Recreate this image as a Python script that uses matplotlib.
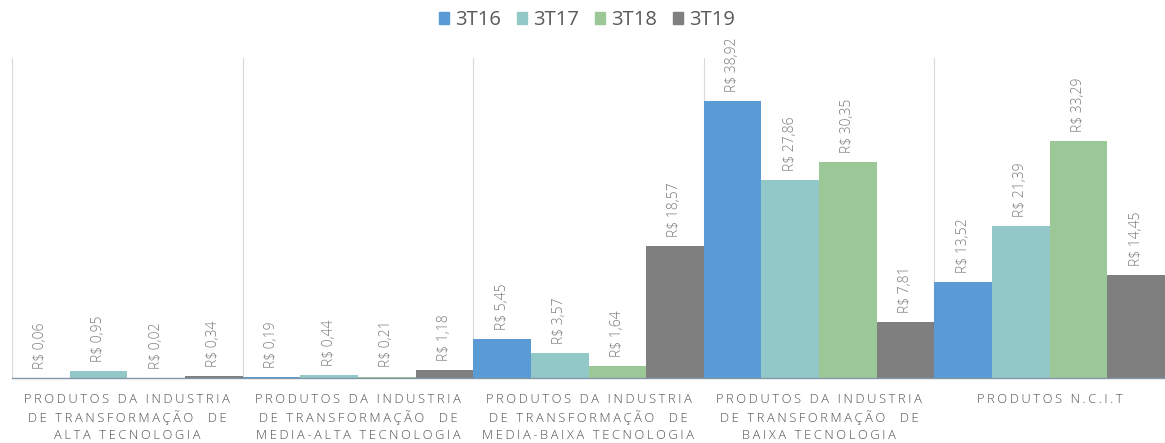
import matplotlib
matplotlib.use("Agg")
import matplotlib.pyplot as plt
import numpy as np
from matplotlib.patches import Patch

categories = [
    "PRODUTOS DA INDUSTRIA\nDE TRANSFORMAÇÃO  DE\nALTA TECNOLOGIA",
    "PRODUTOS DA INDUSTRIA\nDE TRANSFORMAÇÃO  DE\nMEDIA-ALTA TECNOLOGIA",
    "PRODUTOS DA INDUSTRIA\nDE TRANSFORMAÇÃO  DE\nMEDIA-BAIXA TECNOLOGIA",
    "PRODUTOS DA INDUSTRIA\nDE TRANSFORMAÇÃO  DE\nBAIXA TECNOLOGIA",
    "PRODUTOS N.C.I.T",
]
series_names = ["3T16", "3T17", "3T18", "3T19"]
v_3t16 = [0.06, 0.19, 5.45, 38.92, 13.52]
v_3t17 = [0.95, 0.44, 3.57, 27.86, 21.39]
v_3t18 = [0.02, 0.21, 1.64, 30.35, 33.29]
v_3t19 = [0.34, 1.18, 18.57, 7.81, 14.45]
series_values = [v_3t16, v_3t17, v_3t18, v_3t19]
colors = ["#5B9BD5", "#93C8C8", "#9CC796", "#7F7F7F"]

plt.rcParams['font.family'] = ['Open Sans', 'DejaVu Sans']


def spaced(s):
    # emulate the letter-spacing of the original labels with thin spaces
    return "\n".join("\u2009".join(line) for line in s.split("\n"))


fig = plt.figure(figsize=(11.65, 4.43), dpi=100)
ax = fig.add_axes([12/1165, 1-378/443, 1-12/1165, (378-58)/443])

x = np.arange(len(categories))
w = 0.25
for i, (name, vals, c) in enumerate(zip(series_names, series_values, colors)):
    pos = x + (i - 1.5) * w
    ax.bar(pos, vals, width=w, color=c, label=name, zorder=2)
    for p, v in zip(pos, vals):
        ax.annotate("R$ " + f"{v:.2f}".replace(".", ","), (p, v),
                    xytext=(0, 6.5), textcoords="offset points",
                    rotation=90, ha="center", va="bottom",
                    fontsize=10, color="#7A7A7A", fontweight="light")

ax.set_xlim(-0.5, len(categories) - 0.5)
ax.set_ylim(0, 45)
for b in np.arange(-0.5, len(categories) - 0.5, 1.0):
    ax.axvline(b, color="#D9D9D9", lw=0.8, zorder=1)

for s in ["top", "right", "left"]:
    ax.spines[s].set_visible(False)
ax.spines["bottom"].set_color("#8497A8")
ax.spines["bottom"].set_linewidth(1.0)
ax.set_yticks([])
ax.set_xticks(x)
ax.set_xticklabels([spaced(c) for c in categories], fontsize=9.3,
                   color="#505050", linespacing=1.35, fontweight="light")
ax.tick_params(axis="x", length=0, pad=11)

handles = [Patch(color=c) for c in colors]
fig.legend(handles, series_names, loc="center", bbox_to_anchor=(587/1165, 1-20/443),
           ncol=4, frameon=False, handlelength=0.5, handleheight=0.5,
           handletextpad=0.3, columnspacing=0.8, labelcolor="#595959",
           prop={"size": 14.5, "weight": "normal"})

fig.savefig("out.png", dpi=100, facecolor="white")
